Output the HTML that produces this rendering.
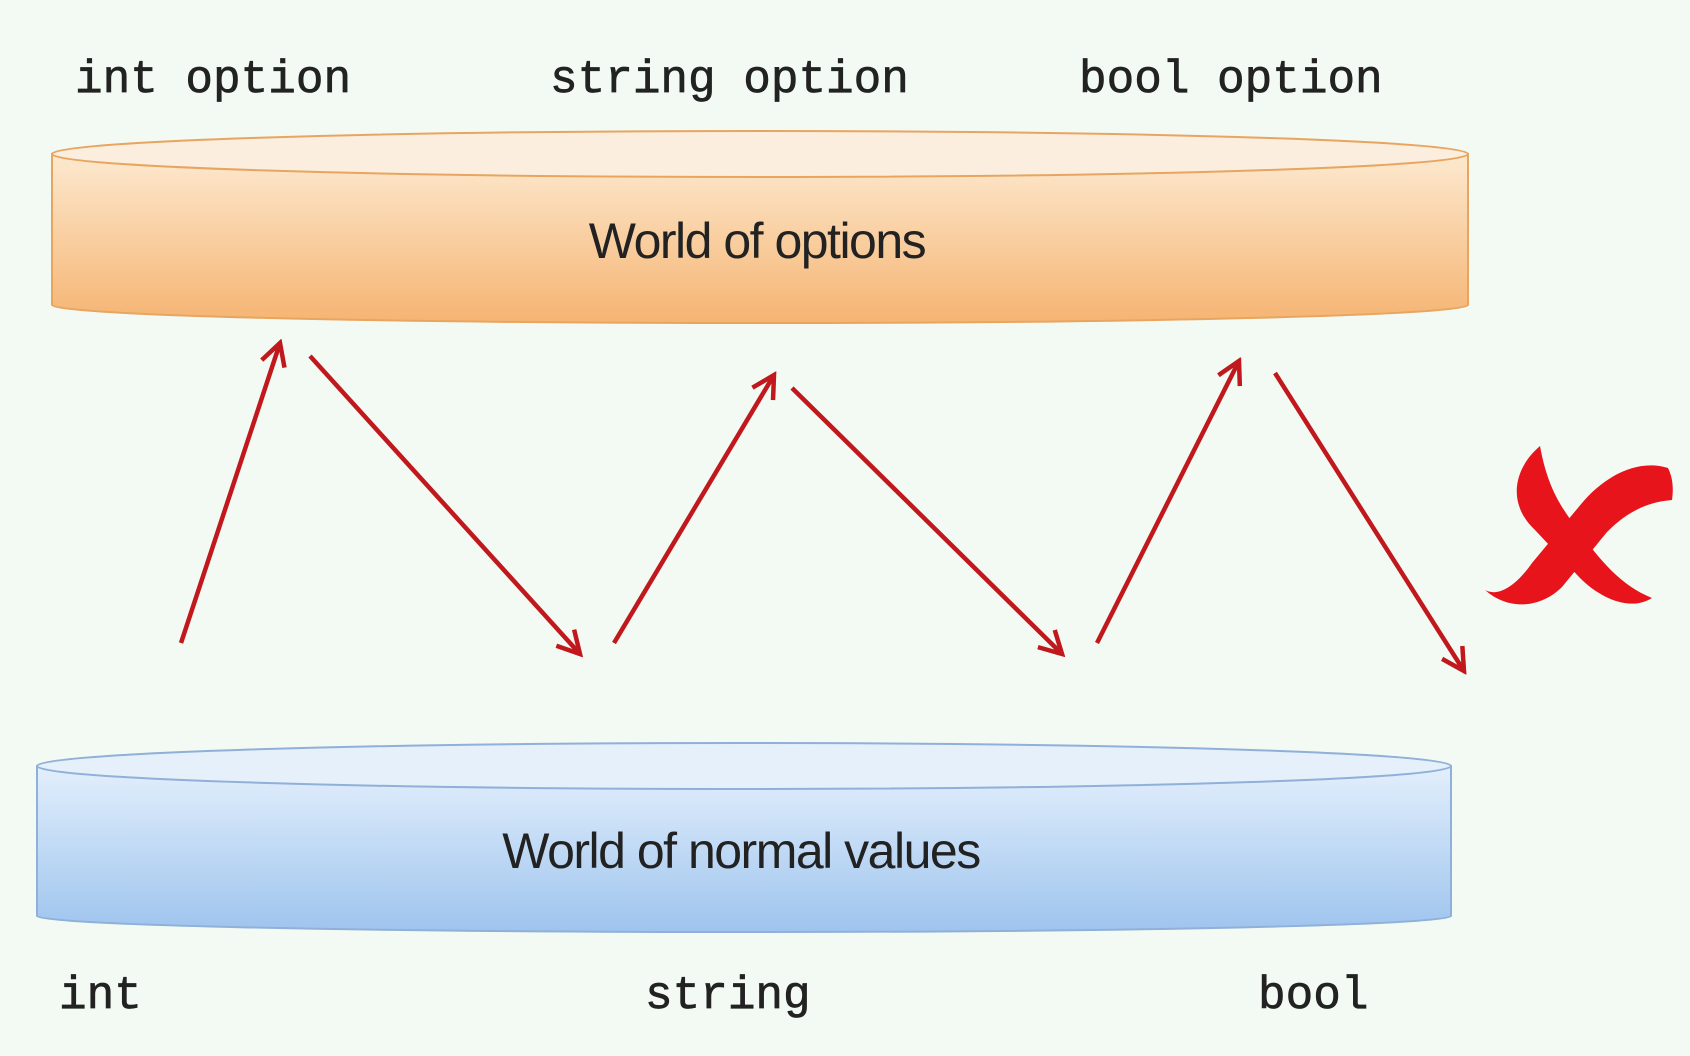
<!DOCTYPE html>
<html><head><meta charset="utf-8"><style>
html,body{margin:0;padding:0;background:#f3faf3;}
svg{display:block}
.m{font-family:"Liberation Mono",monospace;font-size:46px;fill:#222;stroke:#222;stroke-width:0.7}
.s{font-family:"Liberation Sans",sans-serif;font-size:50px;fill:#222;letter-spacing:-1.5px}
</style></head><body>
<svg width="1690" height="1056" viewBox="0 0 1690 1056" xmlns="http://www.w3.org/2000/svg">
<defs>
<linearGradient id="o" x1="0" y1="0" x2="0" y2="1">
<stop offset="0" stop-color="#fde9cf"/><stop offset="1" stop-color="#f5b472"/></linearGradient>
<linearGradient id="b" x1="0" y1="0" x2="0" y2="1">
<stop offset="0" stop-color="#e3effc"/><stop offset="1" stop-color="#9ec4ee"/></linearGradient>
<marker id="a2" markerWidth="30" markerHeight="30" refX="26" refY="15" orient="auto" markerUnits="userSpaceOnUse">
<path d="M4,3 L26,15 L4,27" fill="none" stroke="#c0181c" stroke-width="4.5"/></marker>
</defs>
<rect width="1690" height="1056" fill="#f3faf3"/>
<text class="m" x="75" y="92">int option</text>
<text class="m" x="550" y="92">string option</text>
<text class="m" x="1079" y="92">bool option</text>

<path d="M52,154 L52,305 A706,18 0 0 0 1468,305 L1468,154 Z" fill="url(#o)" stroke="#e8a560" stroke-width="2"/>
<ellipse cx="760" cy="154" rx="708" ry="23" fill="#fbeede" stroke="#e8a560" stroke-width="2"/>
<text class="s" x="757" y="258" text-anchor="middle">World of options</text>

<path d="M37,766 L37,916 A707,16 0 0 0 1451,916 L1451,766 Z" fill="url(#b)" stroke="#8fb0d8" stroke-width="2"/>
<ellipse cx="744" cy="766" rx="707" ry="23" fill="#e6f0fb" stroke="#8fb0d8" stroke-width="2"/>
<text class="s" x="741" y="868" text-anchor="middle">World of normal values</text>

<g stroke="#c0181c" stroke-width="4.5" fill="none" marker-end="url(#a2)">
<line x1="181" y1="643" x2="280" y2="343"/>
<line x1="310" y1="356" x2="580" y2="654"/>
<line x1="614" y1="643" x2="774" y2="375"/>
<line x1="792" y1="388" x2="1062" y2="654"/>
<line x1="1097" y1="643" x2="1239" y2="361"/>
<line x1="1275" y1="373" x2="1464" y2="671"/>
</g>

<g fill="#e8141c">
<path d="M1540,446 C1512,470 1508,505 1535,530 L1580,578 C1600,598 1630,612 1652,598 C1620,585 1600,560 1578,530 C1562,508 1548,490 1540,446 Z"/>
<path d="M1668,468 C1636,458 1603,478 1582,503 L1532,563 C1518,583 1500,598 1485,590 C1510,612 1542,607 1562,587 L1607,532 C1627,512 1647,502 1672,500 C1674,486 1672,476 1668,468 Z"/>
</g>

<text class="m" x="59" y="1008">int</text>
<text class="m" x="645" y="1008">string</text>
<text class="m" x="1258" y="1008">bool</text>
</svg>
</body></html>
